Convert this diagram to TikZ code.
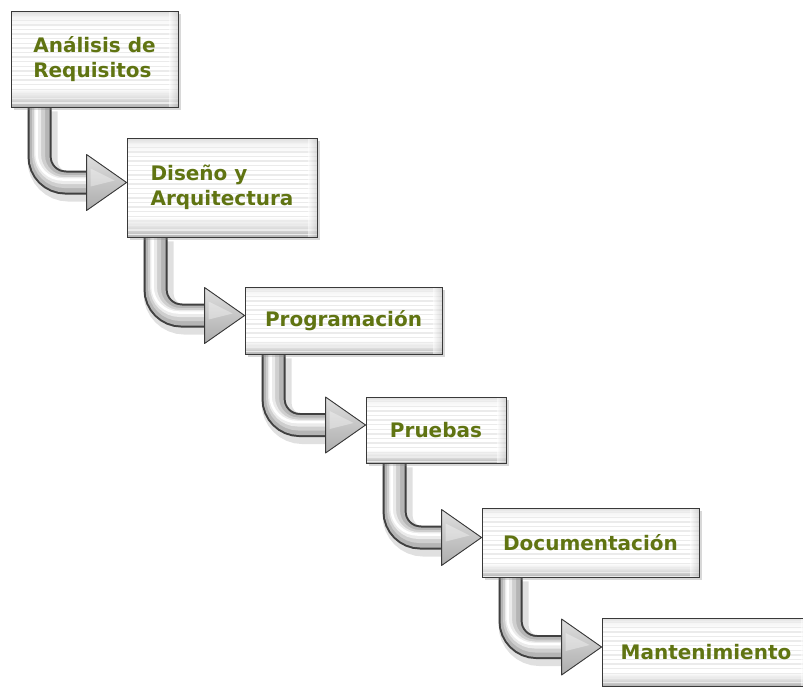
\documentclass[tikz,border=0pt]{standalone}
\usepackage{fontspec}
\setmainfont{DejaVu Sans}
\usetikzlibrary{calc,shadows}
\pgfdeclarelayer{paper}
\pgfdeclarelayer{background}
\pgfsetlayers{paper,background,main}

\definecolor{stepgreen}{RGB}{96,116,18}

% face of a step box: grey band at the foot, thin grey rim at the top
\pgfdeclareverticalshading{boxface}{100bp}{%
  color(0bp)=(gray!62); color(25bp)=(gray!62); color(29bp)=(gray!30);
  color(35bp)=(white); color(66bp)=(white); color(72bp)=(gray!8);
  color(75bp)=(gray!28); color(100bp)=(gray!28)}

\tikzset{
  stepbox/.style={draw=gray!45!black, line width=0.9pt, shade, shading=boxface,
    drop shadow={shadow xshift=2.5pt, shadow yshift=-2.5pt, opacity=.3},
    inner sep=0pt, text=stepgreen, align=left,
    font=\bfseries\fontsize{20}{25}\selectfont,
    path picture={
      \foreach \k in {1,...,24}
        \draw[gray!16, line width=1.4pt]
          ([yshift=-\k*4.6pt]path picture bounding box.north west) --
          ([yshift=-\k*4.6pt]path picture bounding box.north east);
      \shade[left color=white, right color=gray!50, opacity=.5]
        ([xshift=-9pt]path picture bounding box.north east) rectangle
        (path picture bounding box.south east);
    }},
  tube/.style={draw=gray!50!black, line width=24pt, line cap=butt,
    rounded corners=26pt,
    preaction={draw=black, opacity=.12, line width=30pt,
      transform canvas={xshift=3pt, yshift=-4pt}},
    postaction={draw=gray!58, line width=20pt},
    postaction={draw=gray!38, line width=13pt,
      transform canvas={xshift=-1pt, yshift=1pt}},
    postaction={draw=gray!16, line width=7pt,
      transform canvas={xshift=-2pt, yshift=2pt}},
    postaction={draw=white, line width=2.5pt,
      transform canvas={xshift=-3pt, yshift=3pt}}},
  arrowhead/.style={draw=gray!45!black, line width=0.9pt, line join=round,
    top color=gray!25, bottom color=gray!65}
}

% bent metallic arrow from the foot of one step to the side of the next
\newcommand\stepArrow[2]{%
  \coordinate (#1-tip) at ($(#2.west)+(0,-5)$);
  \draw[tube] ($(#1.south west)+(29,0)$) |- ($(#1-tip)+(-38,0)$);
  \filldraw[arrowhead] ($(#1-tip)+(-40,-28)$) -- (#1-tip)
    -- ($(#1-tip)+(-40,28)$) -- cycle;
  \fill[white, opacity=.35] ($(#1-tip)+(-36,-14)$) -- ($(#1-tip)+(-12,-2)$)
    -- ($(#1-tip)+(-36,4)$) -- cycle;}

\begin{document}
\begin{tikzpicture}[x=1pt, y=-1pt]
  \begin{pgfonlayer}{paper}
    \fill[white] (0,0) rectangle (803,686);
  \end{pgfonlayer}
  \useasboundingbox (0,0) rectangle (803,686);

  \node[stepbox, minimum width=167pt, minimum height=96pt] (b1) at (94.5,59)
    {Análisis de\\Requisitos};
  \node[stepbox, minimum width=190pt, minimum height=99pt] (b2) at (222,187.5)
    {Diseño y\\Arquitectura};
  \node[stepbox, minimum width=197pt, minimum height=67pt] (b3) at (343.5,320.5)
    {Programación};
  \node[stepbox, minimum width=140pt, minimum height=66pt] (b4) at (436,430)
    {Pruebas};
  \node[stepbox, minimum width=217pt, minimum height=69pt] (b5) at (590.5,542.5)
    {Documentación};
  \node[stepbox, minimum width=208pt, minimum height=68pt] (b6) at (706,652)
    {Mantenimiento};

  \begin{pgfonlayer}{background}
    \stepArrow{b1}{b2}
    \stepArrow{b2}{b3}
    \stepArrow{b3}{b4}
    \stepArrow{b4}{b5}
    \stepArrow{b5}{b6}
  \end{pgfonlayer}
\end{tikzpicture}
\end{document}
